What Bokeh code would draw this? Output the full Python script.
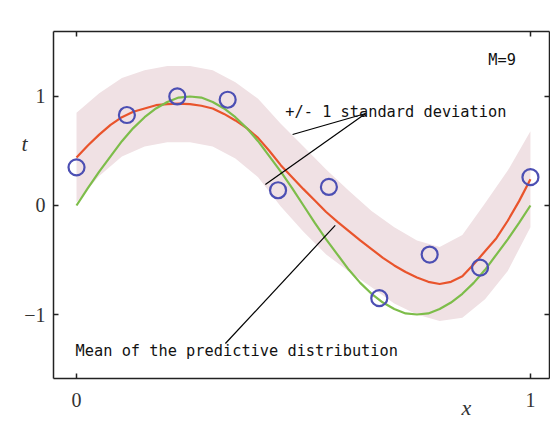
from bokeh.plotting import figure
from bokeh.models import Range1d, LinearAxis, FixedTicker
from bokeh.core.properties import value
from bokeh.embed import file_html
from bokeh.resources import INLINE

# observed data points (x_n, t_n)
pts_x = [0.0, 0.111, 0.222, 0.333, 0.444, 0.556, 0.667, 0.778, 0.889, 1.0]
pts_t = [0.35, 0.83, 1.00, 0.97, 0.14, 0.17, -0.85, -0.45, -0.57, 0.26]

# curve sample positions (fine)
cx = [0.0, 0.025, 0.05, 0.075, 0.1, 0.125, 0.15, 0.175, 0.2, 0.225, 0.25,
      0.275, 0.3, 0.325, 0.35, 0.375, 0.4, 0.425, 0.45, 0.475, 0.5,
      0.525, 0.55, 0.575, 0.6, 0.625, 0.65, 0.675, 0.7, 0.725, 0.75,
      0.775, 0.8, 0.825, 0.85, 0.875, 0.9, 0.925, 0.95, 0.975, 1.0]
# true function (green)
true_t = [0.0, 0.16, 0.31, 0.45, 0.59, 0.71, 0.81, 0.89, 0.95, 0.99, 1.0,
          0.99, 0.95, 0.89, 0.81, 0.71, 0.59, 0.45, 0.31, 0.16, 0.0,
          -0.16, -0.31, -0.45, -0.59, -0.71, -0.81, -0.89, -0.95, -0.99, -1.0,
          -0.99, -0.95, -0.89, -0.81, -0.71, -0.59, -0.45, -0.31, -0.16, 0.0]
# predictive mean (red)
mean_t = [0.44, 0.55, 0.65, 0.74, 0.81, 0.86, 0.89, 0.92, 0.93, 0.935, 0.93,
          0.915, 0.89, 0.84, 0.78, 0.71, 0.62, 0.50, 0.37, 0.26, 0.15,
          0.045, -0.06, -0.15, -0.235, -0.32, -0.40, -0.48, -0.55, -0.61, -0.66,
          -0.70, -0.72, -0.70, -0.65, -0.54, -0.42, -0.30, -0.14, 0.04, 0.24]

# band (mean +/- one standard deviation), coarse samples
bx = [0.0, 0.05, 0.1, 0.15, 0.2, 0.25, 0.3, 0.35, 0.4, 0.45, 0.5,
      0.55, 0.6, 0.65, 0.7, 0.75, 0.8, 0.85, 0.9, 0.95, 1.0]
band_mean = [0.44, 0.65, 0.81, 0.89, 0.93, 0.93, 0.89, 0.78, 0.62, 0.37, 0.15,
             -0.06, -0.235, -0.40, -0.55, -0.66, -0.72, -0.65, -0.42, -0.14, 0.24]
sd_t = [0.41, 0.38, 0.36, 0.35, 0.35, 0.35, 0.35, 0.35, 0.36, 0.38, 0.39,
        0.39, 0.37, 0.35, 0.35, 0.34, 0.34, 0.38, 0.44, 0.46, 0.44]
upper = [m + s for m, s in zip(band_mean, sd_t)]
lower = [m - s for m, s in zip(band_mean, sd_t)]

x_ticks = [0, 1]
y_ticks = [-1, 0, 1]

# annotation pointer anchors (data units)
sd_tip = (0.637, 0.844)
sd_ends = [(0.476, 0.651), (0.416, 0.193)]
mean_tip = (0.570, -0.183)
mean_end = (0.328, -1.266)

p = figure(width=550, height=430, output_backend="svg", toolbar_location=None,
           x_range=Range1d(-0.0507, 1.042), y_range=Range1d(-1.587, 1.596),
           min_border_left=53, min_border_right=1, min_border_top=31, min_border_bottom=52,
           x_axis_location=None, y_axis_location=None)
p.background_fill_color = "white"
p.border_fill_color = "white"
p.outline_line_color = None
p.grid.visible = False

def style_axis(ax, ticks):
    ax.ticker = FixedTicker(ticks=ticks)
    ax.minor_tick_line_color = None
    ax.major_tick_in = 5
    ax.major_tick_out = 0
    ax.axis_line_color = "#222222"
    ax.axis_line_width = 1.5
    ax.major_tick_line_color = "#222222"
    ax.major_tick_line_width = 1.5
    ax.major_label_text_font = "Liberation Serif"
    ax.major_label_text_font_size = "20px"
    ax.major_label_text_color = "#333333"

left = LinearAxis(); style_axis(left, y_ticks)
left.major_label_standoff = 8
left.major_label_overrides = {-1: "\u22121", 0: "0", 1: "1"}
bottom = LinearAxis(); style_axis(bottom, x_ticks)
bottom.major_label_standoff = 14
right = LinearAxis(); style_axis(right, y_ticks)
right.major_label_overrides = {-1: "", 0: "", 1: ""}
top = LinearAxis(); style_axis(top, x_ticks)
top.major_label_overrides = {0: "", 1: ""}

# axis-name labels placed as single tick labels on bare extra axes
t_pos = [0.57]
x_pos = [0.859]
t_axis = LinearAxis(ticker=FixedTicker(ticks=t_pos), major_label_overrides={0.57: "t"},
                    axis_line_color=None, major_tick_line_color=None, minor_tick_line_color=None,
                    major_tick_in=0, major_tick_out=0, major_label_standoff=-6,
                    major_label_text_font="Liberation Serif", major_label_text_font_style="italic",
                    major_label_text_font_size="22px", major_label_text_color="#333333")
x_axis = LinearAxis(ticker=FixedTicker(ticks=x_pos), major_label_overrides={0.859: "x"},
                    axis_line_color=None, major_tick_line_color=None, minor_tick_line_color=None,
                    major_tick_in=0, major_tick_out=0, major_label_standoff=-15,
                    major_label_text_font="Liberation Serif", major_label_text_font_style="italic",
                    major_label_text_font_size="22px", major_label_text_color="#333333")

p.add_layout(left, "left")
p.add_layout(t_axis, "left")
p.add_layout(bottom, "below")
p.add_layout(x_axis, "below")
p.add_layout(right, "right")
p.add_layout(top, "above")

p.varea(x=bx, y1=lower, y2=upper, fill_color="#f0e1e4", fill_alpha=1.0)
p.line(cx, mean_t, line_color="#e9542c", line_width=2.2)
p.line(cx, true_t, line_color="#7dbd4a", line_width=2.2)
p.scatter(pts_x, pts_t, marker="circle", size=16, fill_color=None,
          line_color="#4c4fb3", line_width=2.2)

p.segment(x0=[sd_tip[0], sd_tip[0], mean_tip[0]], y0=[sd_tip[1], sd_tip[1], mean_tip[1]],
          x1=[sd_ends[0][0], sd_ends[1][0], mean_end[0]],
          y1=[sd_ends[0][1], sd_ends[1][1], mean_end[1]],
          line_color="black", line_width=1.2)

mono = value("DejaVu Sans Mono")
p.text(x=[0.907], y=[1.339], text=["M=9"], text_font=mono, text_font_size="15.3px",
       text_baseline="middle", text_align="left", text_color="#111111")
p.text(x=[0.460], y=[0.862], text=["+/- 1 standard deviation"], text_font=mono,
       text_font_size="15.3px", text_baseline="middle", text_align="left", text_color="#111111")
p.text(x=[-0.002], y=[-1.339], text=["Mean of the predictive distribution"], text_font=mono,
       text_font_size="15.3px", text_baseline="middle", text_align="left", text_color="#111111")

open("out.html", "w").write(file_html(p, INLINE))
